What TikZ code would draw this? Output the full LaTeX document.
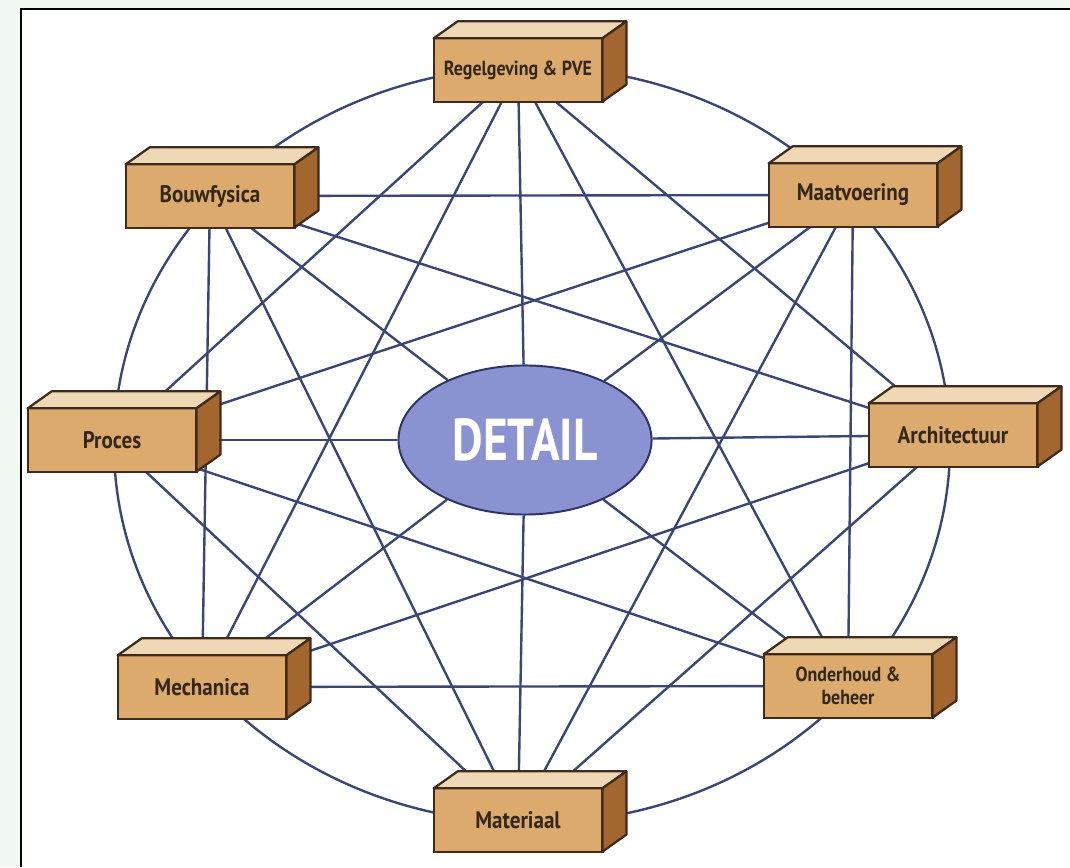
\documentclass[tikz,border=0pt]{standalone}
\usepackage{fontspec}
\setmainfont{PT Sans}
\newfontfamily\boxfont[FakeStretch=0.88]{PT Sans}
\newfontfamily\detailfont[FakeStretch=0.8]{PT Sans}
\usetikzlibrary{shapes.geometric}
\definecolor{RingBlue}{HTML}{3A4675}
\definecolor{DetailFill}{HTML}{8A92D2}
\definecolor{DetailEdge}{HTML}{2C3568}
\definecolor{BoxFront}{HTML}{DBAA6C}
\definecolor{BoxTop}{HTML}{EFD8B6}
\definecolor{BoxSide}{HTML}{A3662F}
\definecolor{BoxEdge}{HTML}{3E2B1C}
\definecolor{BoxText}{HTML}{33271A}
\definecolor{PageGreen}{HTML}{F1F7F1}
\pgfdeclarelayer{background}
\pgfdeclarelayer{edges}
\pgfsetlayers{background,edges,main}

\begin{document}
\begin{tikzpicture}[
				x=0.025cm, y=0.025cm,
				blok/.style={
					draw=BoxEdge,
					fill=BoxFront,
					line width=1.6pt,
					rectangle,
					inner sep=0pt,
					outer sep=0pt,
					minimum width=120pt,
					minimum height=45pt,
					align=center,
					text=BoxText,
					font=\boxfont\bfseries\fontsize{17pt}{19pt}\selectfont
				},
				kleintekst/.style={
					font=\boxfont\bfseries\fontsize{14.5pt}{16pt}\selectfont
				},
				bloktop/.style={
					draw=BoxEdge,
					fill=BoxTop,
					line width=1.6pt,
					line join=round
				},
				blokside/.style={
					draw=BoxEdge,
					fill=BoxSide,
					line width=1.6pt,
					line join=round
				},
				link/.style={
					draw=RingBlue,
					line width=1.7pt
				},
				kern/.style={
					ellipse,
					draw=DetailEdge,
					fill=DetailFill,
					line width=1.4pt,
					minimum width=180pt,
					minimum height=106pt,
					inner sep=0pt,
					text=white,
					font=\detailfont\bfseries\fontsize{42pt}{44pt}\selectfont
				}
				]
				\useasboundingbox (0,0) rectangle (1070,867);
				\node[blok, kleintekst] (reg) at (518,797) {Regelgeving \& PVE};
				\node[blok] (maat) at (853,672) {Maatvoering};
				\node[blok] (arch) at (953,432) {Architectuur};
				\node[blok, kleintekst] (ond) at (848,181) {Onderhoud \&\\beheer};
				\node[blok] (mat) at (518,47) {Materiaal};
				\node[blok] (mech) at (202,180) {Mechanica};
				\node[blok] (proc) at (112,427) {Proces};
				\node[blok] (bouw) at (210,671) {Bouwfysica};
				\node[kern] (detail) at (525,427) {DETAIL};
				\coordinate (hart) at (532,422);
				\foreach \n in {reg,maat,arch,ond,mat,mech,proc,bouw}{
					\filldraw[bloktop] (\n.north west) -- ++(24,17) -- ([shift={(24,17)}]\n.north east) -- (\n.north east) -- cycle;
					\filldraw[blokside] (\n.north east) -- ++(24,17) -- ([shift={(24,17)}]\n.south east) -- (\n.south east) -- cycle;
				}
				\begin{pgfonlayer}{edges}
					\draw[link] (hart) ellipse [x radius=418, y radius=378];
					\foreach \a/\b in {reg/arch, maat/ond, arch/mat, ond/mech, mat/proc, mech/bouw, proc/reg, bouw/maat,
						reg/ond, maat/mat, arch/mech, ond/proc, mat/bouw, mech/reg, proc/maat, bouw/arch}
						\draw[link] (\a) -- (\b);
					\foreach \n in {reg,maat,arch,ond,mat,mech,proc,bouw}
						\draw[link] (detail) -- (\n);
				\end{pgfonlayer}
				\begin{pgfonlayer}{background}
					\fill[PageGreen] (0,0) rectangle (1070,867);
					\fill[white] (21,0) rectangle (1070,858);
					\draw[black, line width=1.5pt] (21,0) -- (21,858) -- (1070,858);
				\end{pgfonlayer}
			\end{tikzpicture}
\end{document}
